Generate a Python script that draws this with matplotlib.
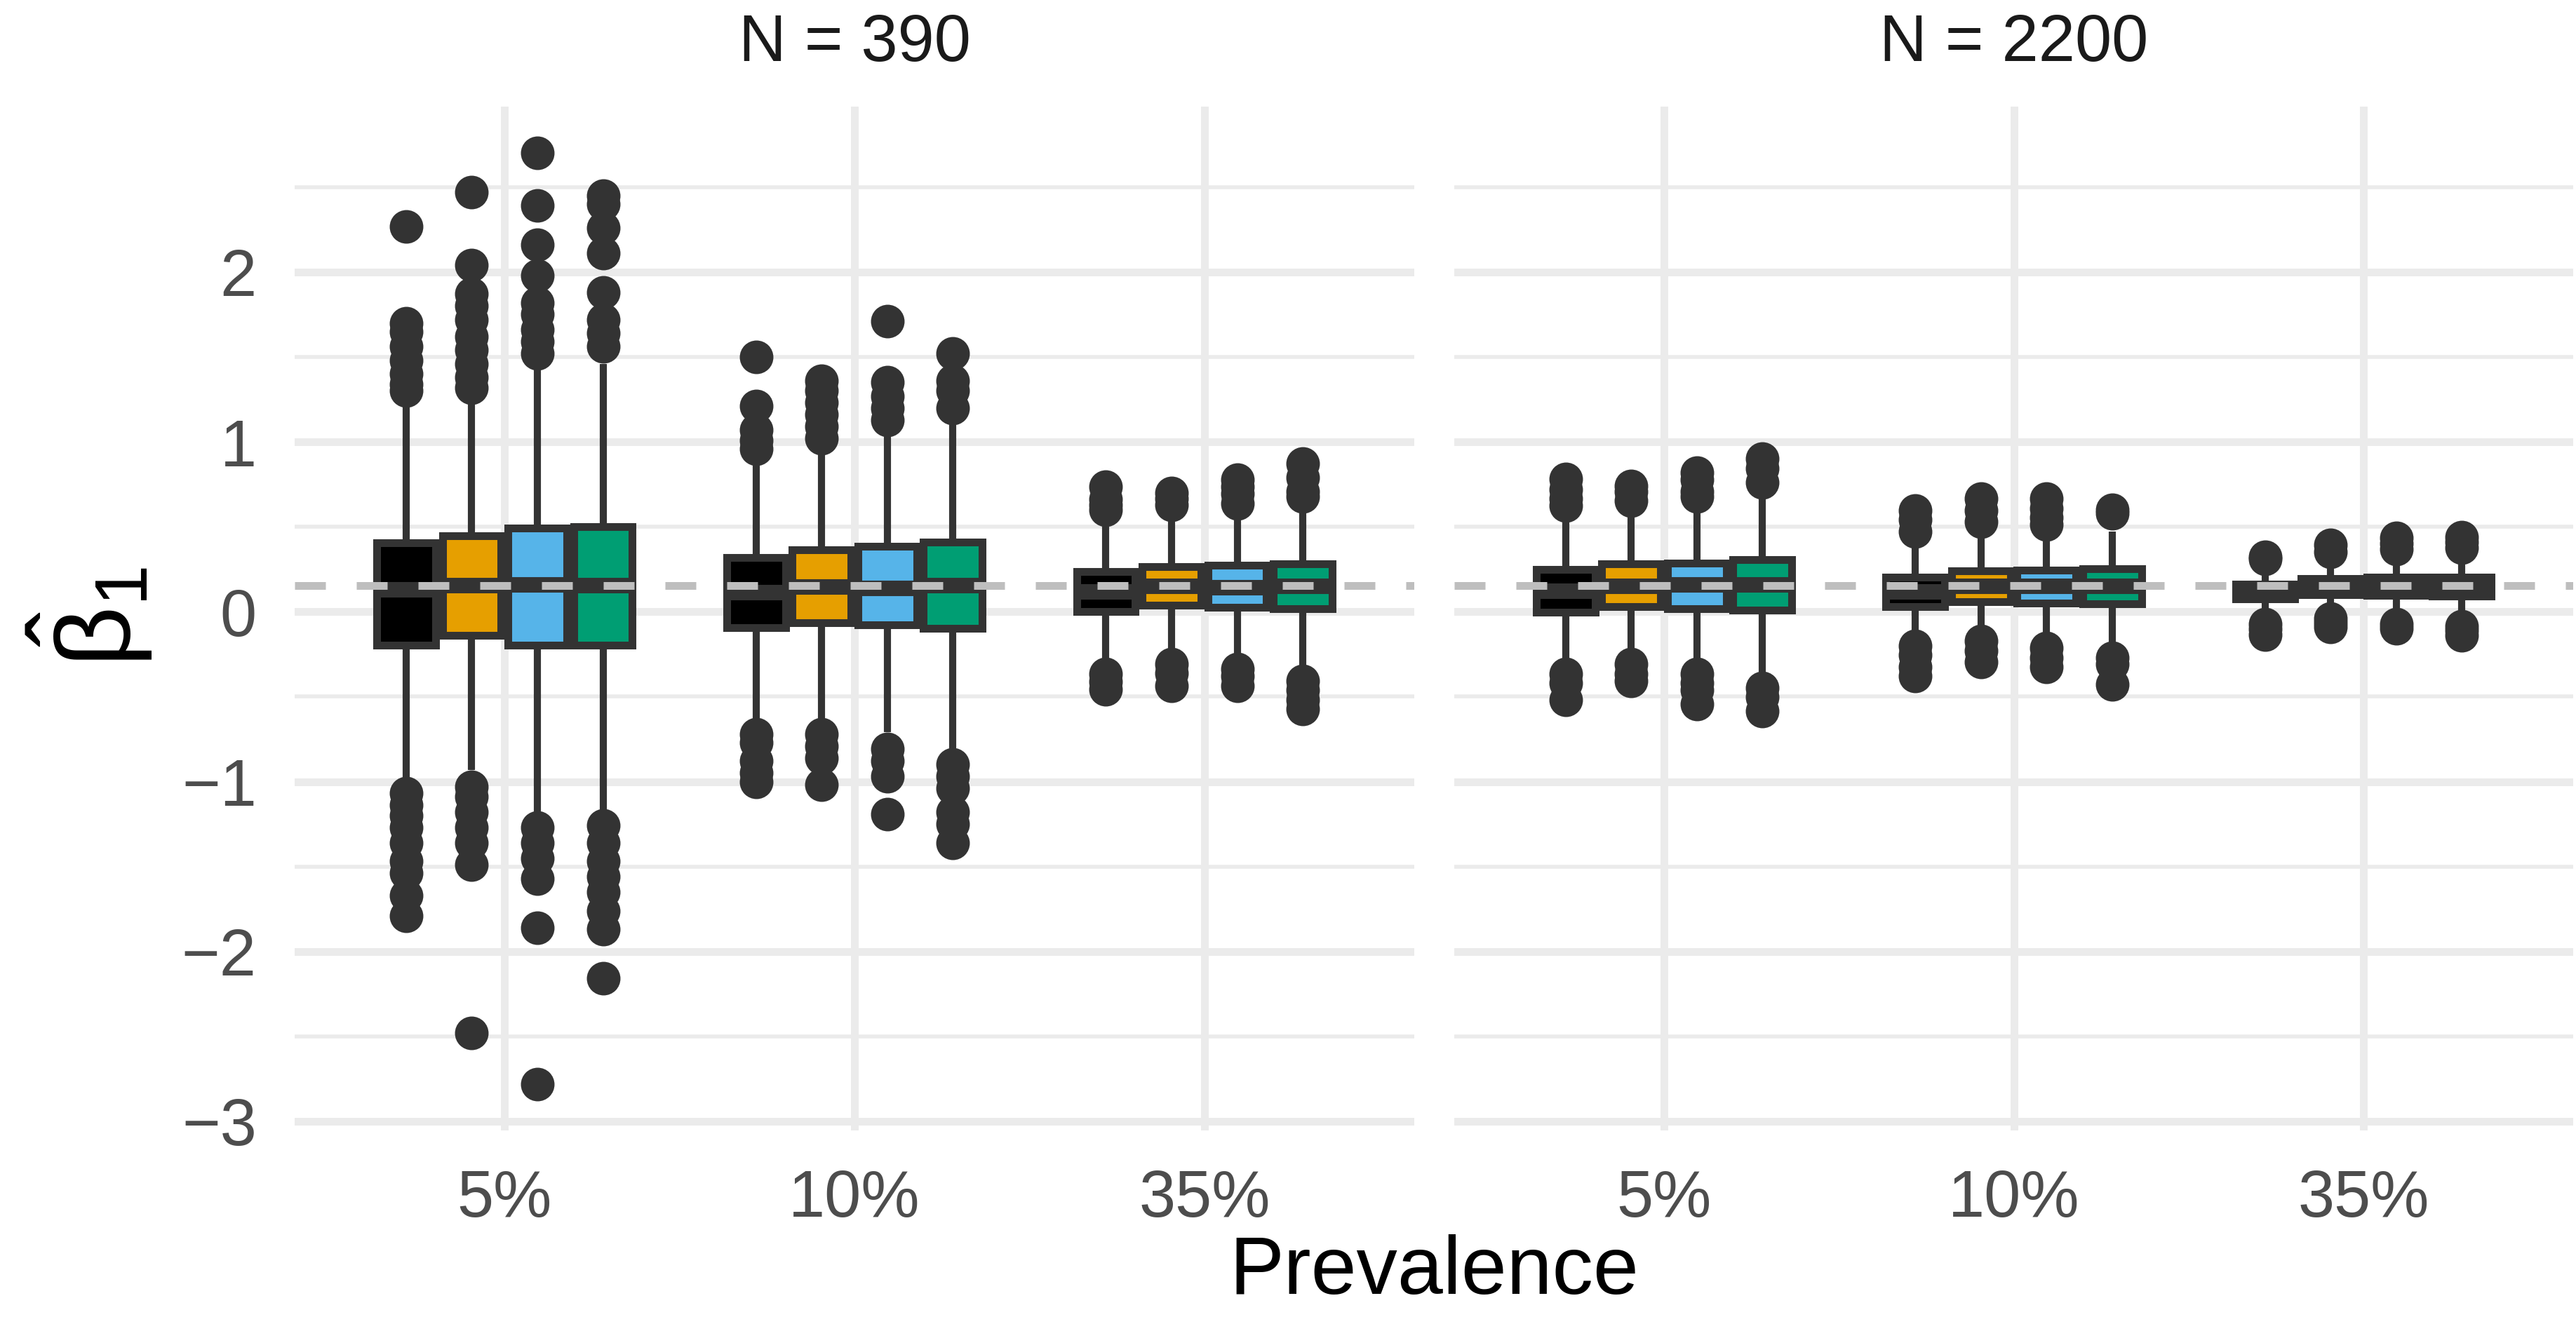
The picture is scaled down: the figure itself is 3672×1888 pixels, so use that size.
import matplotlib.pyplot as plt
import numpy as np

plt.rcParams['font.family'] = ['Liberation Sans', 'DejaVu Sans']
plt.rcParams['mathtext.fontset'] = 'custom'
plt.rcParams['mathtext.rm'] = 'Liberation Sans'
plt.rcParams['mathtext.default'] = 'regular'

W, H = 3672, 1888
DPI = 300

prevalence = ["5%", "10%", "35%"]
panel_titles = ["N = 390", "N = 2200"]
fill_colors = ["#000000", "#E69F00", "#56B4E9", "#009E73"]
true_beta = 0.154

# box statistics per panel: [prevalence][method]
q1_390 = [[-0.196, -0.140, -0.198, -0.198],
          [-0.093, -0.063, -0.079, -0.097],
          [0.001, 0.0385, 0.0275, 0.019]]
med_390 = [[0.130, 0.156, 0.158, 0.152],
           [0.113, 0.144, 0.137, 0.155],
           [0.118, 0.150, 0.143, 0.151]]
q3_390 = [[0.406, 0.448, 0.491, 0.501],
          [0.320, 0.364, 0.386, 0.409],
          [0.235, 0.264, 0.272, 0.283]]
lo_390 = [[-1.00, -0.93, -1.20, -1.17],
          [-0.65, -0.63, -0.71, -0.82],
          [-0.30, -0.27, -0.30, -0.35]]
hi_390 = [[1.24, 1.26, 1.43, 1.46],
          [0.88, 0.93, 1.04, 1.11],
          [0.54, 0.583, 0.57, 0.61]]
out_390 = [
    [[2.27, 1.70, 1.65, 1.56, 1.48, 1.40, 1.34, 1.30,
      -1.07, -1.14, -1.20, -1.27, -1.36, -1.47, -1.54, -1.67, -1.79],
     [2.47, 2.04, 1.87, 1.80, 1.72, 1.62, 1.54, 1.46, 1.38, 1.32,
      -1.03, -1.09, -1.18, -1.27, -1.36, -1.49, -2.48],
     [2.70, 2.39, 2.16, 1.98, 1.82, 1.75, 1.66, 1.59, 1.52,
      -1.27, -1.36, -1.45, -1.57, -1.86, -2.78],
     [2.45, 2.40, 2.26, 2.11, 1.88, 1.72, 1.64, 1.56,
      -1.26, -1.36, -1.47, -1.56, -1.65, -1.76, -1.87, -2.16]],
    [[1.50, 1.21, 1.07, 1.01, 0.96, -0.72, -0.77, -0.88, -0.95, -1.00],
     [1.36, 1.30, 1.23, 1.16, 1.09, 1.02, -0.72, -0.79, -0.86, -1.02],
     [1.71, 1.35, 1.27, 1.20, 1.13, -0.81, -0.88, -0.97, -1.19],
     [1.52, 1.36, 1.30, 1.20, -0.90, -0.97, -1.04, -1.18, -1.25, -1.36]],
    [[0.735, 0.66, 0.63, 0.60, -0.366, -0.41, -0.455],
     [0.70, 0.666, 0.63, -0.31, -0.36, -0.435],
     [0.776, 0.735, 0.693, 0.638, -0.338, -0.38, -0.435],
     [0.872, 0.79, 0.707, 0.68, -0.407, -0.46, -0.517, -0.572]],
]

q1_2200 = [[-0.003, 0.030, 0.019, 0.011],
           [0.029, 0.058, 0.050, 0.047],
           [0.074, 0.100, 0.098, 0.094]]
med_2200 = [[0.122, 0.151, 0.157, 0.157],
            [0.116, 0.150, 0.149, 0.149],
            [0.120, 0.150, 0.150, 0.150]]
q3_2200 = [[0.248, 0.281, 0.287, 0.305],
           [0.202, 0.239, 0.245, 0.254],
           [0.164, 0.195, 0.202, 0.202]]
lo_2200 = [[-0.30, -0.256, -0.297, -0.38],
           [-0.139, -0.118, -0.153, -0.19],
           [-0.04, -0.02, -0.03, -0.05]]
hi_2200 = [[0.54, 0.583, 0.597, 0.666],
           [0.377, 0.44, 0.452, 0.473],
           [0.28, 0.32, 0.35, 0.35]]
out_2200 = [
    [[0.783, 0.72, 0.666, 0.624, -0.366, -0.42, -0.517],
     [0.74, 0.707, 0.652, -0.31, -0.366, -0.407],
     [0.817, 0.776, 0.707, 0.68, -0.366, -0.42, -0.462, -0.545],
     [0.90, 0.845, 0.762, -0.448, -0.503, -0.586]],
    [[0.597, 0.542, 0.473, -0.20, -0.256, -0.325, -0.38],
     [0.666, 0.597, 0.528, -0.173, -0.228, -0.297],
     [0.666, 0.61, 0.556, 0.514, -0.215, -0.27, -0.325],
     [0.60, 0.58, -0.27, -0.31, -0.428]],
    [[0.323, 0.31, -0.073, -0.10, -0.136],
     [0.392, 0.352, -0.039, -0.065, -0.091],
     [0.433, 0.40, 0.369, -0.073, -0.099],
     [0.439, 0.41, 0.375, -0.087, -0.11, -0.14]],
]

panels = [
    (q1_390, med_390, q3_390, lo_390, hi_390, out_390),
    (q1_2200, med_2200, q3_2200, lo_2200, hi_2200, out_2200),
]

EDGE = "#333333"
GRID = "#EBEBEB"
LW = 2.65

fig = plt.figure(figsize=(W / DPI, H / DPI), dpi=DPI)
fig.patch.set_facecolor("white")


def rect(x0, x1, y0, y1):
    return [x0 / W, 1 - y1 / H, (x1 - x0) / W, (y1 - y0) / H]


panel_x = [(420, 2016), (2073, 3668)]
top, bottom = 152, 1612
dodge = 0.75 / 4

for k, (q1, med, q3, lo, hi, out) in enumerate(panels):
    x0, x1 = panel_x[k]
    ax = fig.add_axes(rect(x0, x1, top, bottom))
    for s in ax.spines.values():
        s.set_visible(False)
    ax.set_xlim(-0.6, 2.6)
    ax.set_ylim(-3.054, 2.974)
    ax.set_yticks(range(-3, 3))
    ax.set_yticks(np.arange(-2.5, 3.0, 1.0), minor=True)
    ax.set_xticks(range(len(prevalence)))
    ax.set_xticklabels(prevalence)
    ax.tick_params(which='both', length=0)
    ax.tick_params(axis='y', pad=13, labelsize=22.5, labelcolor="#4D4D4D")
    ax.tick_params(axis='x', pad=13, labelsize=22.5, labelcolor="#4D4D4D")
    if k == 1:
        ax.tick_params(axis='y', labelleft=False)
    ax.grid(which='major', color=GRID, lw=2.64)
    ax.grid(which='minor', axis='y', color=GRID, lw=1.32)
    ax.set_axisbelow(True)

    stats, pos, cols = [], [], []
    for i in range(len(prevalence)):
        for j in range(len(fill_colors)):
            stats.append(dict(med=med[i][j], q1=q1[i][j], q3=q3[i][j],
                              whislo=lo[i][j], whishi=hi[i][j],
                              fliers=np.array(out[i][j])))
            pos.append(i + (j - 1.5) * dodge)
            cols.append(fill_colors[j])

    bp = ax.bxp(stats, positions=pos, widths=0.168, patch_artist=True,
                showcaps=False, manage_ticks=False,
                boxprops=dict(edgecolor=EDGE, linewidth=LW, joinstyle='miter'),
                whiskerprops=dict(color=EDGE, linewidth=LW * 0.92,
                                  solid_capstyle='butt'),
                medianprops=dict(color=EDGE, linewidth=LW * 2,
                                 solid_capstyle='butt'),
                flierprops=dict(marker='o', markersize=11.5,
                                markerfacecolor=EDGE, markeredgewidth=0))
    for patch, c in zip(bp['boxes'], cols):
        patch.set_facecolor(c)

    ax.axhline(true_beta, color="#BEBEBE", lw=2.64, ls=(0, (4, 4)),
               zorder=5)

    fig.text((x0 + x1) / 2 / W, 1 - 63 / H, panel_titles[k],
             ha='center', va='center', fontsize=22.5, color="#1A1A1A")

fig.text((420 + 3668) / 2 / W, 1 - 1815 / H, "Prevalence",
         ha='center', va='center', fontsize=28, color="black")
fig.text(128 / W, 1 - 880 / H, r"$\hat{\beta}_1$", rotation=90,
         ha='center', va='center', fontsize=36, color="black")

fig.savefig("out.png", dpi=DPI, facecolor="white")
